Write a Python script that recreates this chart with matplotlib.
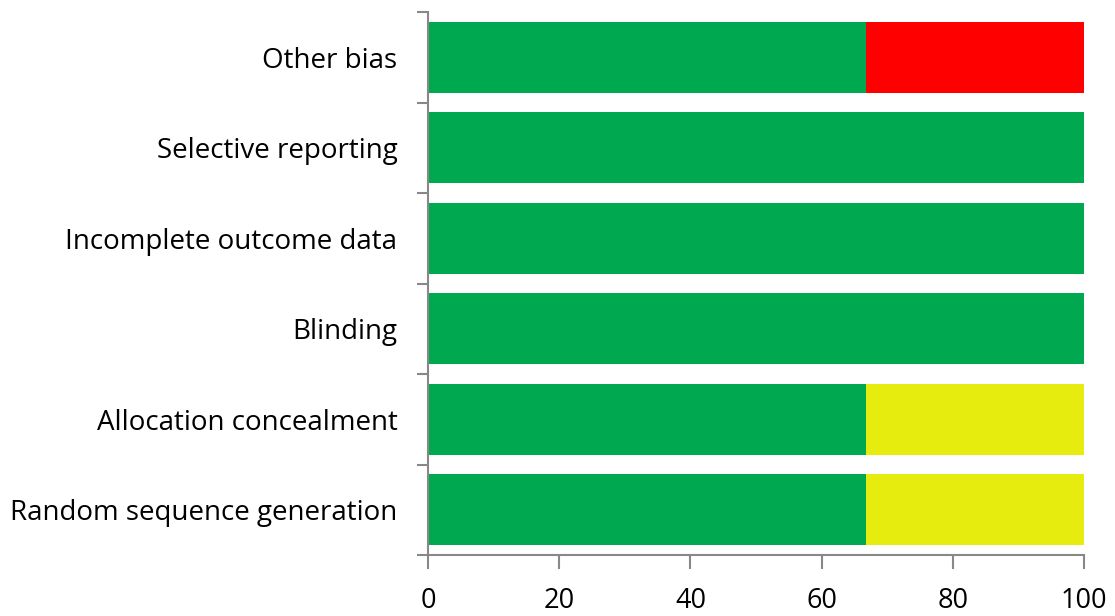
import matplotlib.pyplot as plt
import numpy as np

# Risk of bias summary (percent of studies)
domains = ['Random sequence generation', 'Allocation concealment', 'Blinding',
           'Incomplete outcome data', 'Selective reporting', 'Other bias']
low_risk = [66.7, 66.7, 100, 100, 100, 66.7]
unclear_risk = [33.3, 33.3, 0, 0, 0, 0]
high_risk = [0, 0, 0, 0, 0, 33.3]

plt.rcParams['font.family'] = ['Open Sans', 'DejaVu Sans']

fig = plt.figure(figsize=(11.15, 6.16), dpi=100)
ax = fig.add_axes([428 / 1115, 1 - 555 / 616, 656 / 1115, 543 / 616])

pos = np.arange(len(domains))
low = np.array(low_risk)
unc = np.array(unclear_risk)
high = np.array(high_risk)

ax.barh(pos, low, height=0.78, color='#00A94F')
ax.barh(pos, unc, left=low, height=0.78, color='#E6EC0E')
ax.barh(pos, high, left=low + unc, height=0.78, color='#FF0000')

ax.set_xlim(0, 100)
ax.set_ylim(-0.5, len(domains) - 0.5)
ax.set_xticks([0, 20, 40, 60, 80, 100])

# category labels centred, tick marks between categories
ax.set_yticks(pos)
ax.set_yticklabels(domains)
ax.set_yticks(np.arange(len(domains) + 1) - 0.5, minor=True)
ax.tick_params(axis='y', which='major', length=0, pad=22, labelsize=20)
ax.tick_params(axis='y', which='minor', length=8, width=1.5, color='#888888')
ax.tick_params(axis='x', length=10, width=1.5, color='#888888', labelsize=19.5, pad=13)

for s in ['top', 'right']:
    ax.spines[s].set_visible(False)
for s in ['left', 'bottom']:
    ax.spines[s].set_color('#888888')
    ax.spines[s].set_linewidth(1.5)

plt.savefig('out.png', dpi=100)
